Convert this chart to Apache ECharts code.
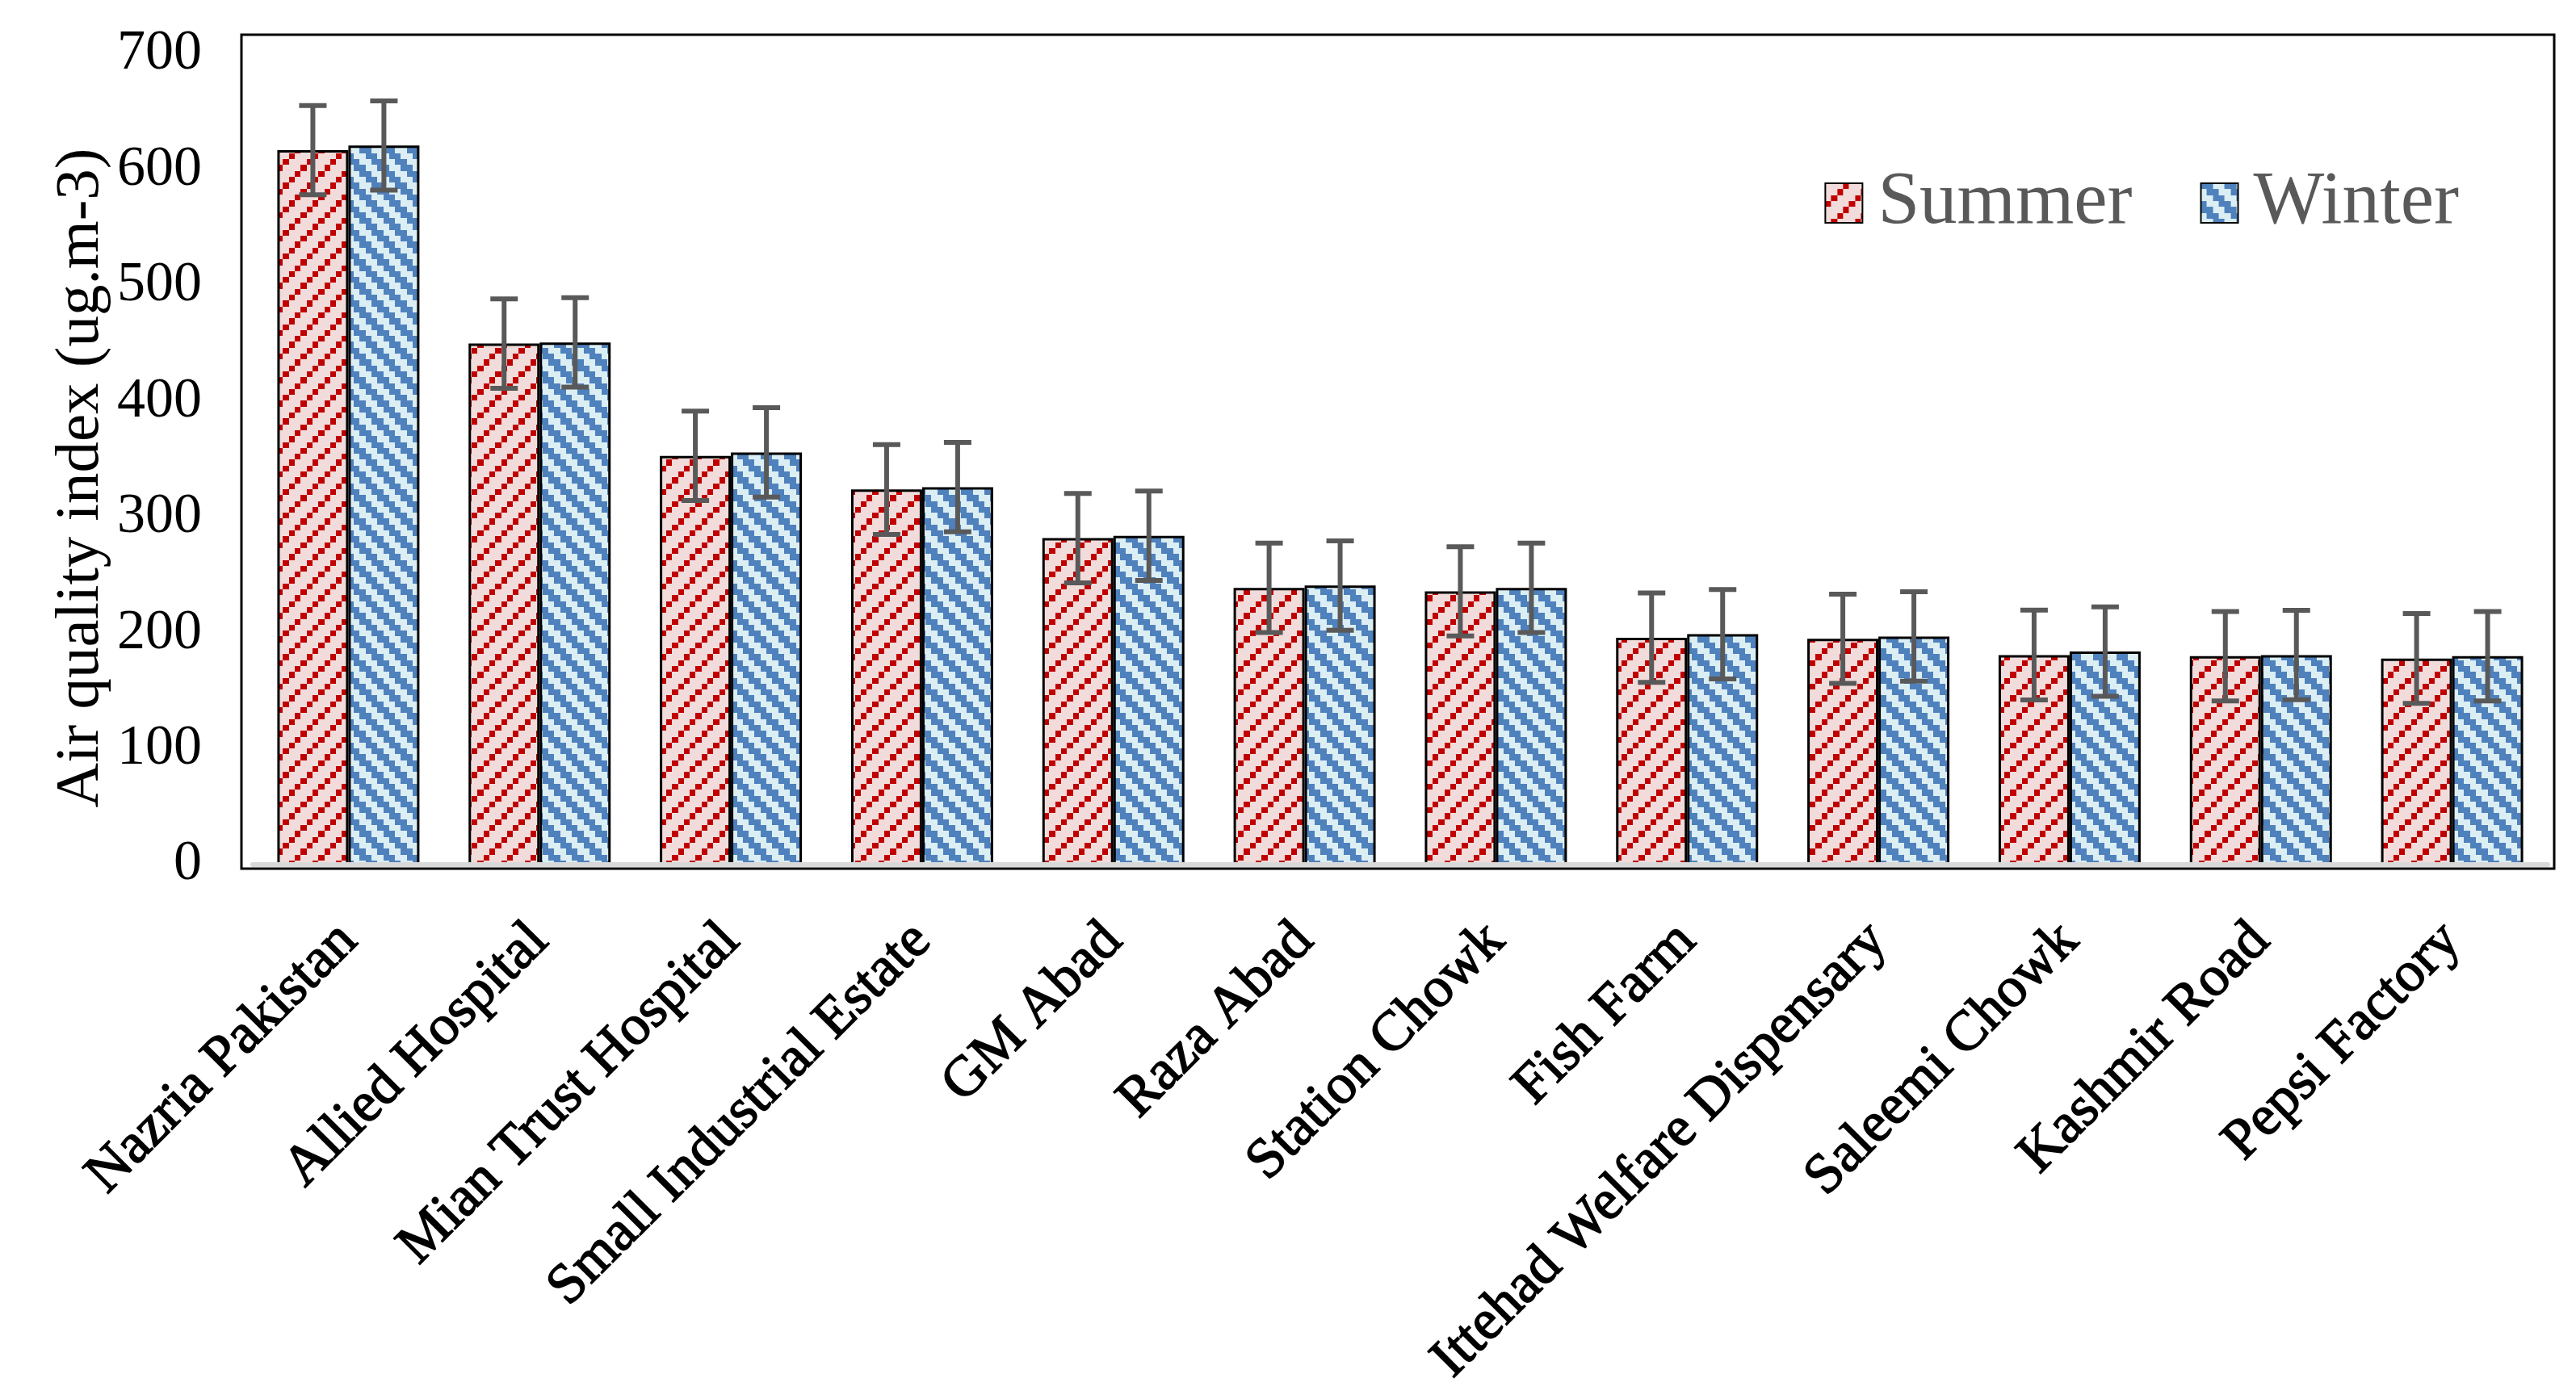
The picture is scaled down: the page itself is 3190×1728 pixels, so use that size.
<!DOCTYPE html>
<html>
<head>
<meta charset="utf-8">
<script src="https://cdn.jsdelivr.net/npm/echarts@6/dist/echarts.min.js"></script>
<style>html,body{margin:0;padding:0;background:#fff;}#c{width:3190px;height:1728px;}</style>
</head>
<body>
<div id="c"></div>
<script>
const categories = ['Nazria Pakistan','Allied Hospital','Mian Trust Hospital','Small Industrial Estate','GM Abad','Raza Abad','Station Chowk','Fish Farm','Ittehad Welfare Dispensary','Saleemi Chowk','Kashmir Road','Pepsi Factory'];
const summerValues = [617, 450, 353, 324, 282, 239, 236, 196, 195, 181, 180, 178];
const winterValues = [621, 451, 356, 326, 284, 241, 239, 199, 197, 184, 181, 180];
const summerErrors = [38.5, 38.6, 38.6, 38.8, 38.6, 38.6, 38.6, 38.6, 38.5, 38.8, 38.6, 38.8];
const winterErrors = [38.5, 38.6, 38.6, 38.6, 38.6, 38.6, 38.6, 38.6, 38.6, 38.6, 38.6, 38.6];
const yTicks = [0, 100, 200, 300, 400, 500, 600, 700];
const seriesNames = ['Summer', 'Winter'];

function makePattern(kind) {
  const p = 7.3, n = 20, size = Math.round(p * n);
  const cv = document.createElement('canvas');
  cv.width = size; cv.height = size;
  const ctx = cv.getContext('2d');
  ctx.fillStyle = kind === 'summer' ? '#F2DCDB' : '#DBEEF4';
  ctx.fillRect(0, 0, size, size);
  ctx.fillStyle = kind === 'summer' ? '#C00000' : '#4F81BD';
  for (let r = 0; r < n; r++) {
    for (let c = 0; c < n; c++) {
      let on;
      if (kind === 'summer') on = ((c + r) % 4) === 3;
      else { const m = ((c - r) % 4 + 4) % 4; on = (m === 0 || m === 1); }
      if (on) ctx.fillRect(Math.round(c * p), Math.round(r * p), Math.round((c + 1) * p) - Math.round(c * p), Math.round((r + 1) * p) - Math.round(r * p));
    }
  }
  return cv;
}

const chart = echarts.init(document.getElementById('c'), null, {renderer: 'canvas'});
const CAT_GAP = 0.257;

function errorSeries(vals, errs, side) {
  return {
    type: 'custom',
    z: 5,
    silent: true,
    data: vals.map((v, i) => [i, v, errs[i]]),
    renderItem: function (params, api) {
      const i = api.value(0), v = api.value(1), e = api.value(2);
      const bandW = api.size([1, 0])[0];
      const barW = bandW * (1 - CAT_GAP) / 2;
      const base = api.coord([i, v]);
      const x = base[0] + side * barW / 2;
      const yTop = api.coord([i, v + e])[1];
      const yBot = api.coord([i, v - e])[1];
      const cap = 17;
      const st = {stroke: '#595959', lineWidth: 6};
      return {
        type: 'group',
        children: [
          {type: 'line', shape: {x1: x, y1: yTop, x2: x, y2: yBot}, style: st},
          {type: 'line', shape: {x1: x - cap, y1: yTop, x2: x + cap, y2: yTop}, style: st},
          {type: 'line', shape: {x1: x - cap, y1: yBot, x2: x + cap, y2: yBot}, style: st}
        ]
      };
    }
  };
}

const option = {
  animation: false,
  backgroundColor: '#fff',
  grid: {left: 313, right: 35, top: 67, bottom: 657, containLabel: false},
  legend: {
    data: seriesNames,
    icon: 'rect',
    right: 140,
    top: 200,
    itemWidth: 46,
    itemHeight: 49,
    itemGap: 84,
    textStyle: {fontFamily: 'Liberation Serif', fontSize: 93, color: '#595959', padding: [0, 0, 0, 14]}
  },
  xAxis: {
    type: 'category',
    data: categories,
    z: 10,
    axisLine: {show: true, lineStyle: {color: '#D9D9D9', width: 6}},
    axisTick: {show: false},
    axisLabel: {interval: 0, rotate: 45, margin: 84, fontFamily: 'Liberation Serif', fontSize: 70, color: '#000', textBorderColor: '#000', textBorderWidth: 1.6}
  },
  yAxis: {
    type: 'value',
    min: yTicks[0],
    max: yTicks[yTicks.length - 1],
    interval: 100,
    axisLine: {show: false},
    axisTick: {show: false},
    splitLine: {show: false},
    axisLabel: {margin: 63, fontFamily: 'Liberation Serif', fontSize: 70, color: '#000'}
  },
  graphic: [
    {type: 'rect', z: 0, shape: {x: 299, y: 43, width: 2864, height: 1033}, style: {fill: 'none', stroke: '#000', lineWidth: 3}, silent: true},
    {type: 'text', x: 101, y: 592, rotation: Math.PI / 2, style: {text: 'Air quality index (ug.m-3)', fontFamily: 'Liberation Serif', fontSize: 77, fill: '#000', align: 'center', verticalAlign: 'middle'}, silent: true}
  ],
  series: [
    {
      name: seriesNames[0], type: 'bar', data: summerValues,
      barGap: '0%', barCategoryGap: (CAT_GAP * 100) + '%',
      itemStyle: {color: {image: makePattern('summer'), repeat: 'repeat'}, borderColor: '#000', borderWidth: 3}
    },
    {
      name: seriesNames[1], type: 'bar', data: winterValues,
      barGap: '0%', barCategoryGap: (CAT_GAP * 100) + '%',
      itemStyle: {color: {image: makePattern('winter'), repeat: 'repeat'}, borderColor: '#000', borderWidth: 3}
    },
    errorSeries(summerValues, summerErrors, -1),
    errorSeries(winterValues, winterErrors, 1)
  ]
};
chart.setOption(option);
</script>
</body>
</html>
